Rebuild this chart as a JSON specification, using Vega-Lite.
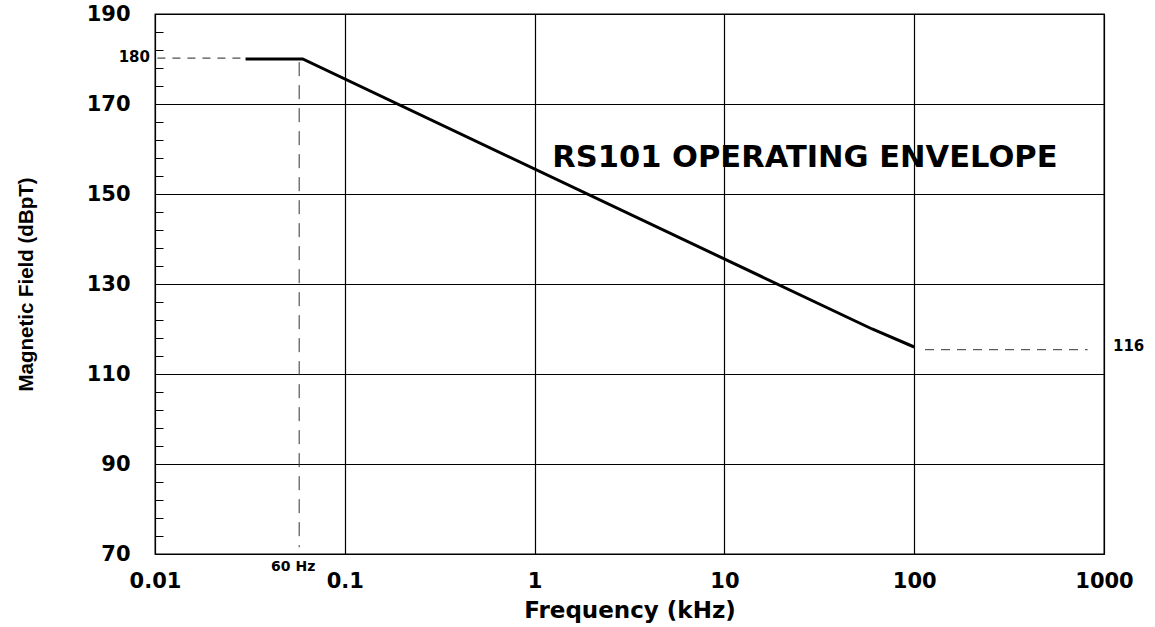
{
  "$schema": "https://vega.github.io/schema/vega-lite/v6.json",
  "width": 949,
  "height": 540,
  "autosize": "none",
  "padding": {"left": 155, "top": 14, "right": 51, "bottom": 73},
  "background": "white",
  "config": {
    "view": {"stroke": "black", "strokeWidth": 1.3},
    "font": "DejaVu Sans",
    "axis": {"domain": false}
  },
  "datasets": {
    "curve": [
      {"freq": 0.03, "field": 180},
      {"freq": 0.06, "field": 180},
      {"freq": 60, "field": 120},
      {"freq": 100, "field": 116}
    ],
    "hdash": [
      {"x1": 0.0103, "x2": 0.029, "y": 180.2, "kind": "left"},
      {"x1": 114, "x2": 820, "y": 115.4, "kind": "right"}
    ],
    "vdash": [
      {"x": 0.0575, "y1": 179.3, "y2": 71.5}
    ],
    "notes": [
      {"x": 0.01, "y": 180.5, "text": "180", "kind": "left"},
      {"x": 0.0575, "y": 70, "text": "60 Hz", "kind": "below"},
      {"x": 1000, "y": 116.2, "text": "116", "kind": "right"},
      {"x": 1.24, "y": 158, "text": "RS101 OPERATING ENVELOPE", "kind": "title"}
    ]
  },
  "encoding": {
    "x": {
      "type": "quantitative",
      "scale": {"type": "log", "domain": [0.01, 1000], "nice": false}
    },
    "y": {
      "type": "quantitative",
      "scale": {"domain": [70, 190], "nice": false, "zero": false}
    }
  },
  "layer": [
    {
      "data": {"name": "curve"},
      "mark": {"type": "line", "color": "black", "strokeWidth": 3},
      "encoding": {
        "x": {
          "field": "freq",
          "type": "quantitative",
          "axis": {
            "values": [0.01, 0.1, 1, 10, 100, 1000],
            "tickCount": 10,
            "labelExpr": "format(datum.value, '~g')",
            "grid": true,
            "gridColor": "black",
            "gridWidth": 1.2,
            "gridOpacity": 1,
            "ticks": false,
            "labelPadding": 16,
            "labelFont": "DejaVu Sans",
            "labelFontWeight": "bold",
            "labelFontSize": 21,
            "labelColor": "black",
            "labelFlush": false,
            "labelOverlap": false,
            "title": "Frequency (kHz)",
            "titleFont": "DejaVu Sans",
            "titleFontWeight": "bold",
            "titleFontSize": 23,
            "titleColor": "black",
            "titlePadding": 8
          }
        },
        "y": {
          "field": "field",
          "type": "quantitative",
          "axis": {
            "values": [70, 74, 78, 82, 86, 90, 94, 98, 102, 106, 110, 114, 118, 122, 126, 130, 134, 138, 142, 146, 150, 154, 158, 162, 166, 170, 174, 178, 182, 186, 190],
            "tickCount": 40,
            "labelExpr": "datum.value % 20 == 10 ? datum.label : ''",
            "grid": true,
            "gridColor": "black",
            "gridWidth": 1.2,
            "gridOpacity": {"condition": {"test": "datum.value % 20 == 10", "value": 1}, "value": 0},
            "tickColor": "black",
            "tickWidth": 1,
            "tickSize": -8,
            "tickOpacity": {"condition": {"test": "datum.value % 20 == 10", "value": 0}, "value": 1},
            "labelPadding": 33,
            "labelFont": "DejaVu Sans",
            "labelFontWeight": "bold",
            "labelFontSize": 21,
            "labelColor": "black",
            "labelFlush": false,
            "labelOverlap": false,
            "title": "Magnetic Field (dBpT)",
            "titleFont": "Liberation Sans",
            "titleFontWeight": "bold",
            "titleFontSize": 20.5,
            "titleColor": "black",
            "titlePadding": 50
          }
        }
      }
    },
    {
      "data": {"name": "hdash"},
      "transform": [{"filter": "datum.kind == 'left'"}],
      "mark": {"type": "rule", "color": "#222", "strokeWidth": 1, "strokeDash": [8, 7]},
      "encoding": {
        "x": {"field": "x1", "type": "quantitative"},
        "x2": {"field": "x2"},
        "y": {"field": "y", "type": "quantitative"}
      }
    },
    {
      "data": {"name": "hdash"},
      "transform": [{"filter": "datum.kind == 'right'"}],
      "mark": {"type": "rule", "color": "#333", "strokeWidth": 1, "strokeDash": [9, 7]},
      "encoding": {
        "x": {"field": "x1", "type": "quantitative"},
        "x2": {"field": "x2"},
        "y": {"field": "y", "type": "quantitative"}
      }
    },
    {
      "data": {"name": "vdash"},
      "mark": {"type": "rule", "color": "#333", "strokeWidth": 1, "strokeDash": [14, 9]},
      "encoding": {
        "x": {"field": "x", "type": "quantitative"},
        "y": {"field": "y1", "type": "quantitative"},
        "y2": {"field": "y2"}
      }
    },
    {
      "data": {"name": "notes"},
      "transform": [{"filter": "datum.kind == 'left'"}],
      "mark": {"type": "text", "align": "right", "baseline": "middle", "dx": -5, "font": "DejaVu Sans", "fontWeight": "bold", "fontSize": 15, "color": "black"},
      "encoding": {
        "x": {"field": "x", "type": "quantitative"},
        "y": {"field": "y", "type": "quantitative"},
        "text": {"field": "text"}
      }
    },
    {
      "data": {"name": "notes"},
      "transform": [{"filter": "datum.kind == 'below'"}],
      "mark": {"type": "text", "align": "center", "baseline": "middle", "dx": -6, "dy": 13, "font": "DejaVu Sans", "fontWeight": "bold", "fontSize": 14, "color": "black"},
      "encoding": {
        "x": {"field": "x", "type": "quantitative"},
        "y": {"field": "y", "type": "quantitative"},
        "text": {"field": "text"}
      }
    },
    {
      "data": {"name": "notes"},
      "transform": [{"filter": "datum.kind == 'right'"}],
      "mark": {"type": "text", "align": "left", "baseline": "middle", "dx": 9, "font": "DejaVu Sans", "fontWeight": "bold", "fontSize": 15, "color": "black"},
      "encoding": {
        "x": {"field": "x", "type": "quantitative"},
        "y": {"field": "y", "type": "quantitative"},
        "text": {"field": "text"}
      }
    },
    {
      "data": {"name": "notes"},
      "transform": [{"filter": "datum.kind == 'title'"}],
      "mark": {"type": "text", "align": "left", "baseline": "middle", "font": "DejaVu Sans", "fontWeight": "bold", "fontSize": 30.5, "color": "black"},
      "encoding": {
        "x": {"field": "x", "type": "quantitative"},
        "y": {"field": "y", "type": "quantitative"},
        "text": {"field": "text"}
      }
    }
  ]
}
